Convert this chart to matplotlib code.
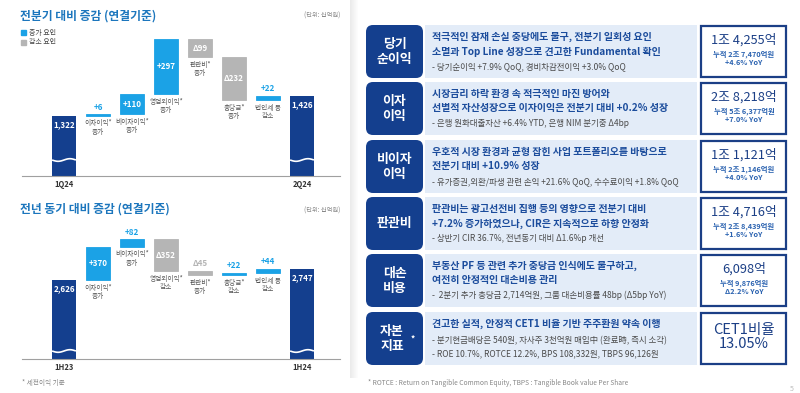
import numpy as np
import matplotlib.pyplot as plt
from matplotlib.patches import FancyBboxPatch, Rectangle

plt.rcParams['font.family'] = ['Noto Sans CJK KR', 'DejaVu Sans']

W, H = 800, 393
NAVY = '#143f8e'
CYAN = '#1ba2e6'
GRAY = '#b5b5b5'
TITLE = '#1c76bd'

# ---- waterfall data (단위: 십억원)
qoq_ends = ['1Q24', '2Q24']
qoq_start = 1322
qoq_end = 1426
qoq_deltas = [6, 110, 297, -99, -232, 22]
qoq_vlabels = ['+6', '+110', '+297', 'Δ99', 'Δ232', '+22']
qoq_cats = ['이자이익*\n증가', '비이자이익*\n증가', '영업외이익*\n증가',
            '판관비*\n증가', '충당금*\n증가', '법인세 등\n감소']

yoy_ends = ['1H23', '1H24']
yoy_start = 2626
yoy_end = 2747
yoy_deltas = [370, 82, -352, -45, 22, 44]
yoy_vlabels = ['+370', '+82', 'Δ352', 'Δ45', '+22', '+44']
yoy_cats = ['이자이익*\n증가', '비이자이익*\n증가', '영업외이익*\n감소',
            '판관비*\n증가', '충당금*\n감소', '법인세 등\n감소']

# ---- right panel data
row_titles = ['당기\n순이익', '이자\n이익', '비이자\n이익', '판관비', '대손\n비용', '자본\n지표']
row_heads = [
    ['적극적인 잠재 손실 충당에도 불구, 전분기 일회성 요인',
     '소멸과 Top Line 성장으로 견고한 Fundamental 확인'],
    ['시장금리 하락 환경 속 적극적인 마진 방어와',
     '선별적 자산성장으로 이자이익은 전분기 대비 +0.2% 성장'],
    ['우호적 시장 환경과 균형 잡힌 사업 포트폴리오를 바탕으로',
     '전분기 대비 +10.9% 성장'],
    ['판관비는 광고선전비 집행 등의 영향으로 전분기 대비',
     '+7.2% 증가하였으나, CIR은 지속적으로 하향 안정화'],
    ['부동산 PF 등 관련 추가 충당금 인식에도 불구하고,',
     '여전히 안정적인 대손비용 관리'],
    ['견고한 실적, 안정적 CET1 비율 기반 주주환원 약속 이행'],
]
row_bullets = [
    ['- 당기순이익 +7.9% QoQ, 경비차감전이익 +3.0% QoQ'],
    ['- 은행 원화대출자산 +6.4% YTD, 은행 NIM 분기중 Δ4bp'],
    ['- 유가증권,외환/파생 관련 손익 +21.6% QoQ, 수수료이익 +1.8% QoQ'],
    ['- 상반기 CIR 36.7%, 전년동기 대비 Δ1.6%p 개선'],
    ['-  2분기 추가 충당금 2,714억원, 그룹 대손비용률 48bp (Δ5bp YoY)'],
    ['- 분기현금배당은 540원, 자사주 3천억원 매입中 (완료時, 즉시 소각)',
     '- ROE 10.7%, ROTCE 12.2%, BPS 108,332원, TBPS 96,126원'],
]
row_values = ['1조 4,255억', '2조 8,218억', '1조 1,121억', '1조 4,716억', '6,098억', 'CET1비율\n13.05%']
row_subs = [['누적 2조 7,470억원', '+4.6% YoY'],
            ['누적 5조 6,377억원', '+7.0% YoY'],
            ['누적 2조 1,146억원', '+4.0% YoY'],
            ['누적 2조 8,439억원', '+1.6% YoY'],
            ['누적 9,876억원', 'Δ2.2% YoY'],
            []]

fig = plt.figure(figsize=(W / 100, H / 100), dpi=100)

# overlay axes in pixel coordinates
ov = fig.add_axes([0, 0, 1, 1])
ov.set_xlim(0, W)
ov.set_ylim(H, 0)
ov.axis('off')


def px_axes(x0, y0, x1, y1):
    return fig.add_axes([x0 / W, 1 - y1 / H, (x1 - x0) / W, (y1 - y0) / H])


def waterfall(ax, start, deltas, end, vlabels, cats, ends, vmin, k, wave_off):
    n = len(deltas)
    bw = 0.7
    ax.bar([0, n + 1], [start - vmin, end - vmin], bottom=vmin, width=bw, color=NAVY, zorder=2)
    for x, v in [(0, start), (n + 1, end)]:
        ax.annotate(f'{v:,}', (x, v), xytext=(0, -3), textcoords='offset points',
                    ha='center', va='top', color='white', fontsize=5.8, fontweight='bold')
        ws = np.linspace(-bw / 2, bw / 2, 40)
        wy = vmin + wave_off / k + (1.3 / k) * np.sin(2 * np.pi * (ws + bw / 2) / bw + np.pi)
        ax.plot(x + ws, wy, color='white', lw=1.2, zorder=3, solid_capstyle='butt')
    level = start
    for i, d in enumerate(deltas):
        lo, hi = min(level, level + d), max(level, level + d)
        col = CYAN if d > 0 else GRAY
        ax.bar(i + 1, hi - lo, bottom=lo, width=bw, color=col, edgecolor=col, lw=0.6, zorder=2)
        if (hi - lo) * k > 14:
            ax.text(i + 1, (lo + hi) / 2, vlabels[i], ha='center', va='center',
                    color='white', fontsize=5.8, fontweight='bold')
        else:
            ax.annotate(vlabels[i], (i + 1, hi), xytext=(0, 2), textcoords='offset points',
                        ha='center', va='bottom', color=col, fontsize=5.8, fontweight='bold')
        ax.annotate(cats[i], (i + 1, lo), xytext=(0, -2.5), textcoords='offset points',
                    ha='center', va='top', color='#555555', fontsize=4.8, linespacing=1.1)
        level += d
    ax.set_xlim(-42 / 34, 276 / 34)
    ax.set_xticks([0, n + 1])
    ax.set_xticklabels(ends, fontsize=5.5, fontweight='bold', color='#333333')
    ax.tick_params(axis='x', length=0, pad=3)
    ax.set_yticks([])
    for s in ['top', 'left', 'right']:
        ax.spines[s].set_visible(False)
    ax.spines['bottom'].set_color('#a0a0a0')
    ax.spines['bottom'].set_linewidth(0.8)
    ax.patch.set_alpha(0)


k1, v1 = 0.185, 995
ax1 = px_axes(22, 30, 340, 176)
ax1.set_ylim(v1, v1 + 146 / k1)
waterfall(ax1, qoq_start, qoq_deltas, qoq_end, qoq_vlabels, qoq_cats, qoq_ends, v1, k1, 16)

k2, v2 = 0.09, 1750
ax2 = px_axes(22, 215, 340, 359)
ax2.set_ylim(v2, v2 + 144 / k2)
waterfall(ax2, yoy_start, yoy_deltas, yoy_end, yoy_vlabels, yoy_cats, yoy_ends, v2, k2, 8)

# left titles / legend / notes
ov.text(20, 16, '전분기 대비 증감 (연결기준)', fontsize=8.5, fontweight='bold', color=TITLE, va='center')
ov.text(340, 16, '(단위: 십억원)', fontsize=4.5, color='#888888', va='center', ha='right')
ov.text(20, 209, '전년 동기 대비 증감 (연결기준)', fontsize=8.5, fontweight='bold', color=TITLE, va='center')
ov.text(340, 211, '(단위: 십억원)', fontsize=4.5, color='#888888', va='center', ha='right')
ov.add_patch(Rectangle((21, 30), 5, 5, color=CYAN))
ov.add_patch(Rectangle((21, 39.5), 5, 5, color=GRAY))
ov.text(29, 32.5, '증가 요인', fontsize=5, color='#444444', va='center')
ov.text(29, 42, '감소 요인', fontsize=5, color='#444444', va='center')
ov.text(22, 383, '* 세전이익 기준', fontsize=4.8, color='#888888', va='center')

# faint divider shadow
for j in range(8):
    ov.add_patch(Rectangle((350 + j, 0), 1, 378, color='#d8d8d8', alpha=0.5 * (1 - j / 8), lw=0))

# right panel
tops = [25, 82, 140, 197, 254, 312]
rh = 53
for i, top in enumerate(tops):
    ov.add_patch(FancyBboxPatch((366, top), 57, rh, boxstyle='round,pad=0,rounding_size=7',
                                fc=NAVY, ec='none'))
    ov.add_patch(Rectangle((425, top), 272, rh, fc='#e3ecf8', ec='none'))
    ov.add_patch(Rectangle((701, top + 1), 85, rh - 2, fc='white', ec='#1b3f86', lw=1.6))
    ov.text(392 if i == 5 else 394.5, top + rh / 2, row_titles[i], ha='center', va='center',
            color='white', fontsize=9.3, fontweight='bold', linespacing=1.05)
    if i == 5:
        ov.text(413, top + 27, '*', ha='center', va='center', color='white', fontsize=6, fontweight='bold')
    for j, line in enumerate(row_heads[i]):
        ov.text(432, top + 12 + 14.5 * j, line, va='center', ha='left', color='#1b4c9c',
                fontsize=7.2, fontweight='bold')
    nb = len(row_bullets[i])
    for j, line in enumerate(row_bullets[i]):
        ov.text(432, top + 41.5 - 13 * (nb - 1 - j), line, va='center', ha='left',
                color='#4a4a4a', fontsize=6.1)
    if row_subs[i]:
        ov.text(744, top + 15, row_values[i], ha='center', va='center', color='#1b3f86', fontsize=9.2)
        for j, line in enumerate(row_subs[i]):
            ov.text(744, top + 29.5 + 8 * j, line, ha='center', va='center', color='#2a62b0',
                    fontsize=5.3, fontweight='bold')
    else:
        ov.text(744, top + 25, row_values[i], ha='center', va='center', color='#1b3f86',
                fontsize=10.5, linespacing=1.0)

ov.text(368, 383, '* ROTCE : Return on Tangible Common Equity, TBPS : Tangible Book value Per Share',
        fontsize=4.8, color='#888888', va='center')
ov.text(792, 389, '5', fontsize=5, color='#bbbbbb', va='center', ha='center')

fig.savefig('out.png', dpi=100)
